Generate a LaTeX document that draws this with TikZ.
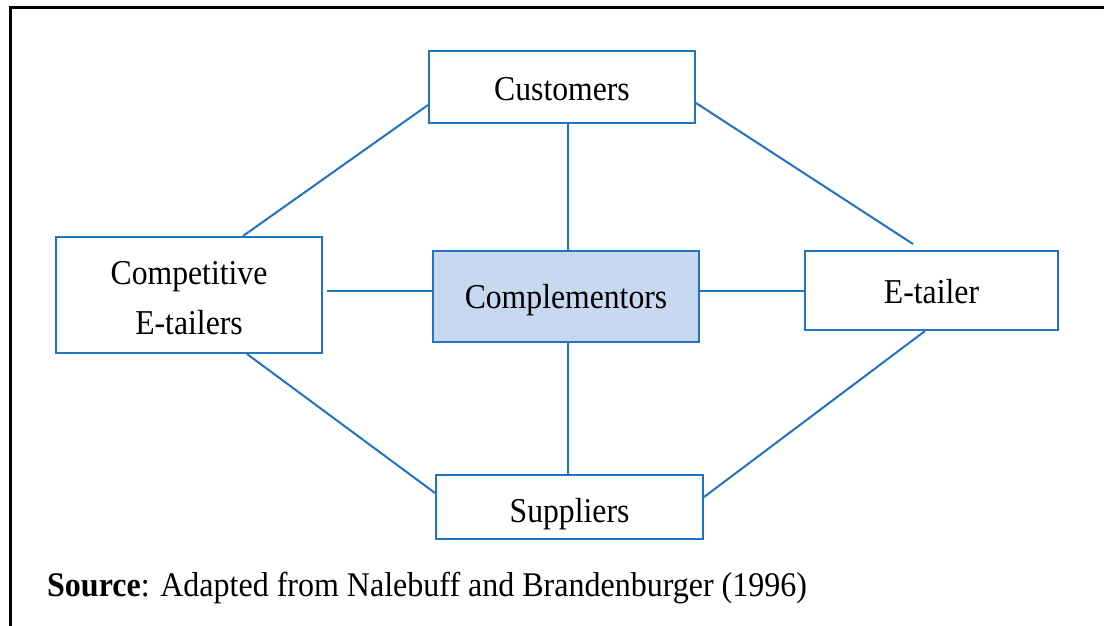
\documentclass[tikz,border=0pt]{standalone}
\usepackage{graphicx}
\usepackage{fontspec}
\setmainfont{Liberation Serif}
\definecolor{lineblue}{HTML}{1F74C4}
\definecolor{fillblue}{HTML}{C6D9F0}
\newcommand\tallify[1]{\scalebox{1}[1.1]{#1}}
\begin{document}
\begin{tikzpicture}[x=1pt,y=-1pt,
  box/.style={draw=lineblue,line width=2pt,rectangle,inner sep=0pt,align=center,
    font=\fontsize{31.7}{50}\selectfont},
  link/.style={draw=lineblue,line width=2pt}]
\useasboundingbox (0,0) rectangle (1104,626);
\fill[white] (0,0) rectangle (1104,626);
\draw[line width=3pt] (10,626) -- (10,8) -- (1104,8);
\node[box,minimum width=266pt,minimum height=72pt,text height=27pt,text depth=0pt] (cust) at (562,87) {\tallify{Customers}};
\node[box,minimum width=266pt,minimum height=116pt,text height=79pt,text depth=0pt] (comp) at (189,295) {\tallify{Competitive}\\\tallify{E-tailers}};
\node[box,fill=fillblue,minimum width=266pt,minimum height=91pt,text height=23.6pt,text depth=0pt] (compl) at (566,296.5) {\tallify{Complementors}};
\node[box,minimum width=253pt,minimum height=79pt,text height=26pt,text depth=0pt] (etail) at (931.5,290.5) {\tallify{E-tailer}};
\node[box,minimum width=267pt,minimum height=64pt,text height=30pt,text depth=0pt] (sup) at (569.5,507) {\tallify{Suppliers}};
\draw[link] ([yshift=-18pt]cust.west) -- ([xshift=54pt]comp.north);
\draw[link] ([yshift=-16pt]cust.east) -- ([xshift=-18.5pt,yshift=6pt]etail.north);
\draw[link] ([xshift=58pt]comp.south) -- ([yshift=14pt]sup.west);
\draw[link] ([yshift=10pt]sup.east) -- ([xshift=-6.5pt]etail.south);
\draw[link] ([xshift=4pt,yshift=4pt]comp.east) -- ([yshift=5.5pt]compl.west);
\draw[link] ([yshift=5.5pt]compl.east) -- ([yshift=-0.5pt]etail.west);
\draw[link] ([xshift=6pt]cust.south) -- ([xshift=2pt]compl.north);
\draw[link] ([xshift=2pt]compl.south) -- ([xshift=-1.5pt]sup.north);
\node[anchor=base west,inner sep=0pt,font=\fontsize{32}{38}\selectfont] (src) at (47,596)
  {\scalebox{1}[1.08]{\textbf{Source}: Adapted from Nalebuff and Brandenburger (1996)}};
\end{tikzpicture}
\end{document}
